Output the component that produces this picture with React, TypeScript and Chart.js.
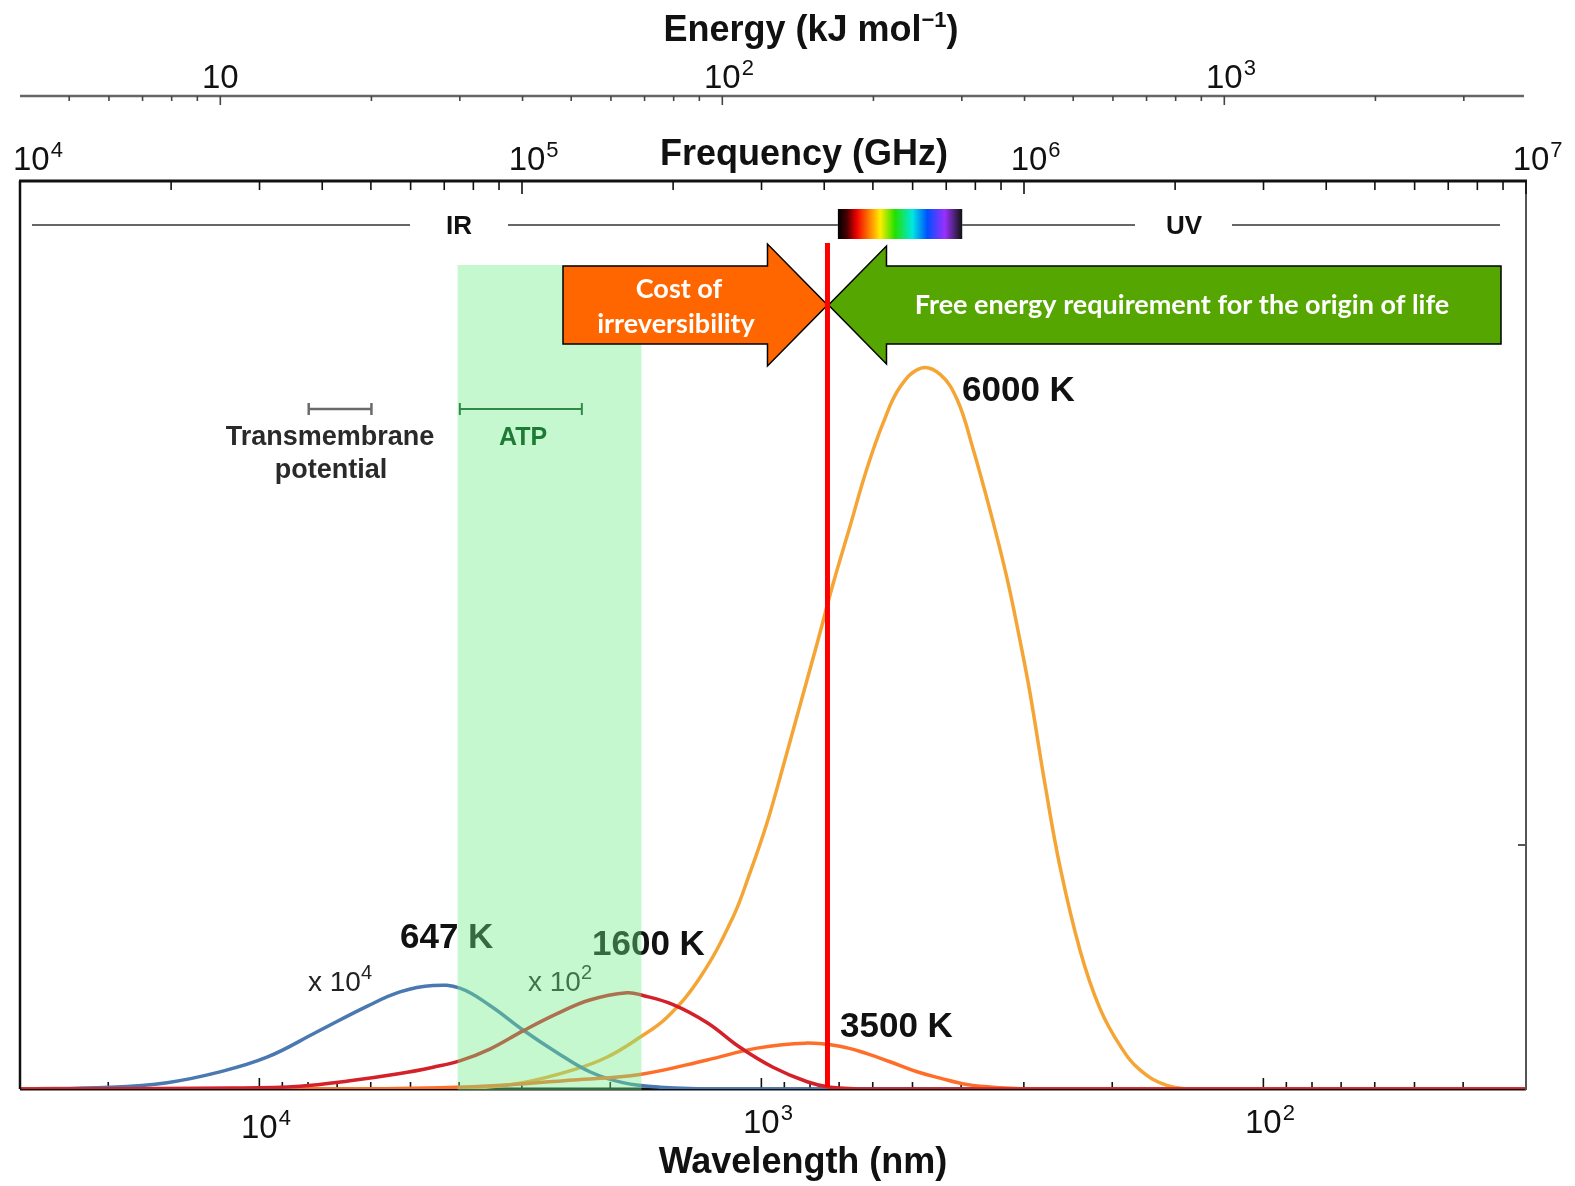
import React, { useEffect, useRef } from "react";
import { Chart, registerables } from "chart.js";

Chart.register(...registerables);

// x: log10(frequency / GHz); y: spectral intensity, arbitrary units (full scale = 100)
const LOG_F_647K = [4.0, 4.179, 4.293, 4.392, 4.492, 4.592, 4.691, 4.757, 4.823, 4.876, 4.936, 5.002, 5.07, 5.135, 5.201, 5.275, 5.4, 7.0];
const I_647K = [0, 0.2, 0.7, 1.8, 3.5, 6.3, 9.1, 10.7, 11.4, 11.1, 9.2, 6.5, 4.0, 1.9, 0.7, 0.2, 0, 0];

const LOG_F_1600K = [4.0, 4.424, 4.558, 4.657, 4.757, 4.823, 4.876, 4.936, 5.002, 5.07, 5.135, 5.209, 5.241, 5.301, 5.369, 5.434, 5.5, 5.568, 5.614, 5.699, 7.0];
const I_1600K = [0, 0.1, 0.3, 0.9, 1.7, 2.4, 3.1, 4.4, 6.4, 8.3, 9.8, 10.6, 10.3, 9.3, 7.3, 4.6, 2.4, 0.8, 0.2, 0, 0];

const LOG_F_3500K = [4.0, 4.6, 4.837, 4.97, 5.102, 5.235, 5.369, 5.468, 5.564, 5.633, 5.687, 5.733, 5.787, 5.833, 5.886, 5.952, 6.032, 7.0];
const I_3500K = [0, 0, 0.15, 0.45, 1.0, 1.6, 3.2, 4.5, 5.05, 4.7, 3.9, 3.0, 1.9, 1.2, 0.5, 0.15, 0, 0];

const LOG_F_6000K = [4.0, 4.757, 4.902, 5.002, 5.102, 5.169, 5.235, 5.289, 5.355, 5.42, 5.454, 5.488, 5.52, 5.554, 5.588, 5.62, 5.653, 5.687, 5.719, 5.753, 5.795, 5.833, 5.867, 5.898, 5.932, 5.966, 5.992, 6.012, 6.042, 6.072, 6.112, 6.151, 6.191, 6.231, 6.285, 6.351, 7.0];
const I_6000K = [0, 0, 0.1, 0.7, 2.1, 3.5, 5.7, 7.9, 12.3, 18.9, 23.8, 29.3, 35.5, 42.3, 49.1, 55.7, 61.9, 68.3, 73.3, 77.3, 79.4, 78.7, 75.9, 70.6, 63.8, 56.3, 49.4, 43.6, 33.5, 24.4, 15.2, 8.9, 4.8, 2.1, 0.4, 0, 0];

// axis tick values
const FREQ_DECADES = [4, 5, 6, 7]; // 10^n GHz
const ENERGY_MAJOR = [10, 100, 1000]; // kJ/mol
const ENERGY_MAJOR_EXP = ["", "2", "3"];
const ENERGY_MINOR = [5, 6, 7, 8, 9, 20, 30, 40, 50, 60, 70, 80, 90, 200, 300, 400, 500, 600, 700, 800, 900, 2000, 3000];
const WAVE_MAJOR = [10000, 1000, 100]; // nm
const WAVE_MAJOR_EXP = ["4", "3", "2"];
const WAVE_MINOR = [20000, 9000, 8000, 7000, 6000, 5000, 4000, 3000, 2000, 900, 800, 700, 600, 500, 400, 300, 200, 90, 80, 70, 60, 50, 40, 30];

// annotation values
const LOG10_KJ_PER_GHZ = Math.log10(3.99e-4);
const LOG10_C_NM_GHZ = Math.log10(2.998e8);
const ATP_BAND_KJ = [29.7, 69];
const ATP_BAR_KJ = [30, 52.5];
const MEMBRANE_BAR_KJ = [15, 20];
const THRESHOLD_KJ = 162;
const VISIBLE_NM = [704, 398];

const SANS = '"Liberation Sans", Arial, Helvetica, sans-serif';
const CAL = 'Lato, "Open Sans", sans-serif';

type Run = { t: string; f: string; dy?: number; c?: string };
function runs(ctx: CanvasRenderingContext2D, rs: Run[], x: number, y: number, align: "left" | "center") {
  let total = 0;
  const ws = rs.map((r) => {
    ctx.font = r.f;
    const w = ctx.measureText(r.t).width;
    total += w;
    return w;
  });
  let cx = align === "left" ? x : x - total / 2;
  ctx.textAlign = "left";
  rs.forEach((r, i) => {
    ctx.font = r.f;
    if (r.c) ctx.fillStyle = r.c;
    ctx.fillText(r.t, cx, y - (r.dy || 0));
    cx += ws[i];
  });
}

function power(ctx: CanvasRenderingContext2D, exp: string, cx: number, y: number, color = "#111", leftAlign = false) {
  const f = `33px ${SANS}`;
  ctx.font = f;
  const w = ctx.measureText("10").width;
  const x0 = leftAlign ? cx : cx - w / 2;
  ctx.fillStyle = color;
  ctx.textAlign = "left";
  ctx.fillText("10", x0, y);
  if (exp) {
    ctx.font = `22px ${SANS}`;
    ctx.fillText(exp, x0 + w + 1, y - 13);
  }
}

function seg(ctx: CanvasRenderingContext2D, x1: number, y1: number, x2: number, y2: number) {
  ctx.beginPath();
  ctx.moveTo(x1, y1);
  ctx.lineTo(x2, y2);
  ctx.stroke();
}

const decor = {
  id: "decor",
  beforeDatasetsDraw(chart: any) {
    const { ctx, chartArea: a, scales } = chart;
    const X = (lf: number) => scales.x.getPixelForValue(lf);
    const XW = (nm: number) => X(LOG10_C_NM_GHZ - Math.log10(nm));
    ctx.save();
    ctx.strokeStyle = "#111";
    ctx.lineWidth = 1.6;
    WAVE_MAJOR.forEach((nm) => seg(ctx, XW(nm), a.bottom, XW(nm), a.bottom - 11));
    WAVE_MINOR.forEach((nm) => seg(ctx, XW(nm), a.bottom, XW(nm), a.bottom - 7));
    ctx.lineWidth = 3;
    seg(ctx, a.left, a.bottom, a.right, a.bottom);
    ctx.restore();
  },
  afterDatasetsDraw(chart: any) {
    const { ctx, chartArea: a, scales } = chart;
    const X = (lf: number) => scales.x.getPixelForValue(lf);
    const XE = (kj: number) => X(Math.log10(kj) - LOG10_KJ_PER_GHZ);
    const XW = (nm: number) => X(LOG10_C_NM_GHZ - Math.log10(nm));
    ctx.save();
    ctx.textBaseline = "alphabetic";

    // labels lying beneath the ATP band
    ctx.fillStyle = "#111";
    ctx.textAlign = "left";
    ctx.font = `bold 35px ${SANS}`;
    ctx.fillText("647 K", 400, 948);
    ctx.fillText("1600 K", 592, 955);
    runs(ctx, [{ t: "x 10", f: `28px ${SANS}`, c: "#222" }, { t: "4", f: `20px ${SANS}`, dy: 12 }], 308, 991, "left");
    runs(ctx, [{ t: "x 10", f: `28px ${SANS}`, c: "#222" }, { t: "2", f: `20px ${SANS}`, dy: 12 }], 528, 991, "left");

    // ATP band overlay
    const bx1 = XE(ATP_BAND_KJ[0]);
    const bx2 = XE(ATP_BAND_KJ[1]);
    ctx.fillStyle = "rgba(112,237,137,0.4)";
    ctx.fillRect(bx1, 265, bx2 - bx1, a.bottom + 1 - 265);

    // bars
    const bar = (x1: number, x2: number, y: number, color: string, w: number) => {
      ctx.strokeStyle = color;
      ctx.lineWidth = w;
      seg(ctx, x1, y, x2, y);
      seg(ctx, x1, y - 6, x1, y + 6);
      seg(ctx, x2, y - 6, x2, y + 6);
    };
    bar(XE(MEMBRANE_BAR_KJ[0]), XE(MEMBRANE_BAR_KJ[1]), 409, "#6a6a6a", 2.5);
    bar(XE(ATP_BAR_KJ[0]), XE(ATP_BAR_KJ[1]), 409, "#2f8a45", 2);
    ctx.textAlign = "center";
    ctx.fillStyle = "#2a2a2a";
    ctx.font = `bold 27px ${SANS}`;
    ctx.fillText("Transmembrane", 330, 445);
    ctx.fillText("potential", 331, 478);
    ctx.fillStyle = "#1f7a35";
    ctx.font = `bold 25px ${SANS}`;
    ctx.fillText("ATP", 523, 445);

    // temperature labels
    ctx.fillStyle = "#111";
    ctx.textAlign = "left";
    ctx.font = `bold 35px ${SANS}`;
    ctx.fillText("6000 K", 962, 401);
    ctx.fillText("3500 K", 840, 1037);

    // arrows
    const tip = XE(THRESHOLD_KJ);
    const ym = 305;
    ctx.lineWidth = 1.5;
    ctx.strokeStyle = "#000";
    ctx.fillStyle = "#ff6600";
    ctx.beginPath();
    ctx.moveTo(563, 266);
    ctx.lineTo(tip - 60, 266);
    ctx.lineTo(tip - 60, 244);
    ctx.lineTo(tip, ym);
    ctx.lineTo(tip - 60, 366);
    ctx.lineTo(tip - 60, 344);
    ctx.lineTo(563, 344);
    ctx.closePath();
    ctx.fill();
    ctx.stroke();
    ctx.fillStyle = "#55a600";
    ctx.beginPath();
    ctx.moveTo(1501, 266);
    ctx.lineTo(tip + 59, 266);
    ctx.lineTo(tip + 59, 246);
    ctx.lineTo(tip + 1, ym);
    ctx.lineTo(tip + 59, 364);
    ctx.lineTo(tip + 59, 344);
    ctx.lineTo(1501, 344);
    ctx.closePath();
    ctx.fill();
    ctx.stroke();
    ctx.fillStyle = "#fff";
    ctx.textAlign = "center";
    ctx.font = `bold 27px ${CAL}`;
    ctx.fillText("Cost of", 679, 298);
    ctx.fillText("irreversibility", 676, 333);
    ctx.fillText("Free energy requirement for the origin of life", 1182, 314);

    // threshold line
    ctx.strokeStyle = "#ff0000";
    ctx.lineWidth = 5;
    seg(ctx, tip, 243, tip, a.bottom - 2);

    // IR / UV line and visible spectrum
    const v1 = XW(VISIBLE_NM[0]);
    const v2 = XW(VISIBLE_NM[1]);
    ctx.strokeStyle = "#333";
    ctx.lineWidth = 1.6;
    seg(ctx, 32, 225, 410, 225);
    seg(ctx, 508, 225, v1, 225);
    seg(ctx, v2, 225, 1135, 225);
    seg(ctx, 1232, 225, 1500, 225);
    const g = ctx.createLinearGradient(v1, 0, v2, 0);
    g.addColorStop(0, "#000");
    g.addColorStop(0.07, "#400");
    g.addColorStop(0.15, "#e00");
    g.addColorStop(0.25, "#ff7a00");
    g.addColorStop(0.34, "#ffee00");
    g.addColorStop(0.46, "#22e000");
    g.addColorStop(0.6, "#00e8e0");
    g.addColorStop(0.72, "#0050ff");
    g.addColorStop(0.86, "#9a30ff");
    g.addColorStop(0.95, "#402060");
    g.addColorStop(1, "#111");
    ctx.fillStyle = g;
    ctx.fillRect(v1, 209, v2 - v1, 30);
    ctx.fillStyle = "#111";
    ctx.font = `bold 26px ${SANS}`;
    ctx.textAlign = "center";
    ctx.fillText("IR", 459, 234);
    ctx.fillText("UV", 1184, 234);

    // borders
    ctx.strokeStyle = "#111";
    ctx.lineWidth = 2.5;
    seg(ctx, a.left, a.top, a.left, a.bottom);
    ctx.strokeStyle = "#555";
    ctx.lineWidth = 2;
    seg(ctx, a.right, a.top, a.right, a.bottom + 1);
    seg(ctx, a.right, 845, a.right - 8, 845);
    ctx.strokeStyle = "#111";
    ctx.lineWidth = 3;
    seg(ctx, a.left - 1, a.top, a.right + 1, a.top);

    // frequency axis ticks (top border)
    ctx.lineWidth = 1.6;
    FREQ_DECADES.forEach((d, i) => {
      seg(ctx, X(d), a.top, X(d), a.top + 13);
      if (i < FREQ_DECADES.length - 1) {
        for (let m = 2; m <= 9; m++) {
          const px = X(d + Math.log10(m));
          seg(ctx, px, a.top, px, a.top + 9);
        }
      }
      if (i === 0) power(ctx, String(d), 13, 170, "#111", true);
      else power(ctx, String(d), X(d) + 5, 170);
    });

    // energy axis
    ctx.strokeStyle = "#666";
    ctx.lineWidth = 2.5;
    seg(ctx, a.left, 96, a.right - 2, 96);
    ctx.lineWidth = 1.6;
    ctx.strokeStyle = "#444";
    ENERGY_MINOR.forEach((e) => seg(ctx, XE(e), 96, XE(e), 101));
    ENERGY_MAJOR.forEach((e, i) => {
      seg(ctx, XE(e), 96, XE(e), 105);
      power(ctx, ENERGY_MAJOR_EXP[i], XE(e), 88);
    });

    // wavelength labels
    WAVE_MAJOR.forEach((nm, i) => power(ctx, WAVE_MAJOR_EXP[i], XW(nm), i === 0 ? 1138 : 1133));

    // titles
    ctx.fillStyle = "#111";
    runs(
      ctx,
      [
        { t: "Energy (kJ mol", f: `bold 36px ${SANS}` },
        { t: "\u22121", f: `bold 22px ${SANS}`, dy: 14 },
        { t: ")", f: `bold 36px ${SANS}` },
      ],
      811,
      41,
      "center"
    );
    ctx.textAlign = "center";
    ctx.font = `bold 36px ${SANS}`;
    ctx.fillText("Frequency (GHz)", 804, 165);
    ctx.fillText("Wavelength (nm)", 803, 1173);
    ctx.restore();
  },
};

const pts = (xs: number[], ys: number[]) => xs.map((x, i) => ({ x, y: ys[i] }));

export default function App() {
  const ref = useRef<HTMLCanvasElement>(null);
  useEffect(() => {
    const line = (label: string, xs: number[], ys: number[], color: string) => ({
      label,
      data: pts(xs, ys),
      borderColor: color,
      borderWidth: 3.5,
      pointRadius: 0,
      fill: false,
      tension: 0.4,
    });
    const chart = new Chart(ref.current!, {
      type: "line",
      data: {
        datasets: [
          line("1600 K (x10^2)", LOG_F_1600K, I_1600K, "#d42028"),
          line("3500 K", LOG_F_3500K, I_3500K, "#ff6e28"),
          line("647 K (x10^4)", LOG_F_647K, I_647K, "#4a78b0"),
          line("6000 K", LOG_F_6000K, I_6000K, "#f5a535"),
        ],
      },
      options: {
        animation: false,
        responsive: false,
        devicePixelRatio: 1,
        layout: { padding: { left: 20, right: 49, top: 181, bottom: 97 } },
        scales: {
          x: { type: "linear", min: 4, max: 7, display: false },
          y: { type: "linear", min: 0, max: 100, display: false },
        },
        plugins: { legend: { display: false }, tooltip: { enabled: false } },
      },
      plugins: [decor as any],
    });
    return () => chart.destroy();
  }, []);
  return (
    <div style={{ position: "fixed", left: 0, top: 0, width: 1575, height: 1186, background: "#fff" }}>
      <canvas ref={ref} width={1575} height={1186} style={{ display: "block", width: 1575, height: 1186 }} />
    </div>
  );
}
